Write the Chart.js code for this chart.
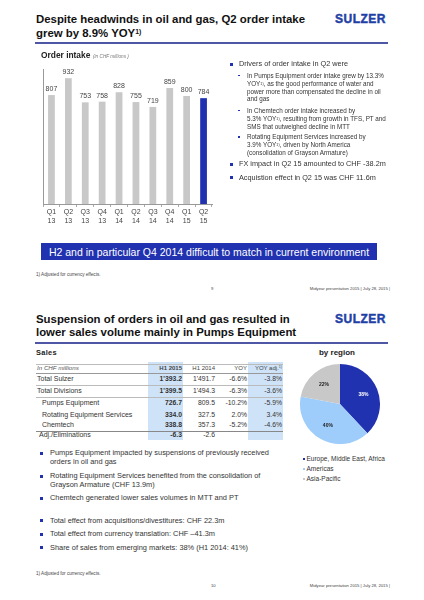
<!DOCTYPE html>
<html>
<head>
<meta charset="utf-8">
<script src="https://cdn.jsdelivr.net/npm/chart.js@4.4.0/dist/chart.umd.min.js"></script>
<style>
  html, body { margin: 0; padding: 0; background: #fff; }
  body { width: 424px; height: 600px; position: relative; overflow: hidden;
         font-family: "Liberation Sans", Arial, sans-serif; color: #222; }
  .t { position: absolute; white-space: nowrap; line-height: 1.15; transform: translateY(-50%); }
  .box { position: absolute; }
  canvas { position: absolute; }
  sup { font-size: 60%; line-height: 0; vertical-align: 0.45em; }
</style>
</head>
<body>

<canvas id="orderChart" width="180" height="175" style="left:36px;top:60px;width:180px;height:175px"></canvas>
<canvas id="regionChart" width="90" height="90" style="left:295px;top:359px;width:90px;height:90px"></canvas>

<script>
// Order intake per quarter (CHF millions)
const quarters = [['Q1','13'],['Q2','13'],['Q3','13'],['Q4','13'],['Q1','14'],['Q2','14'],['Q3','14'],['Q4','14'],['Q1','15'],['Q2','15']];
const orderIntake = [807, 932, 753, 758, 828, 755, 719, 859, 800, 784];
const orderMax = 1000;

// Sales by region, H1 2015 (%)
const regions = ['Europe, Middle East, Africa', 'Americas', 'Asia-Pacific'];
const regionShare = [38, 40, 22];

// Sales table
const tableRows = ['Total Sulzer', 'Total Divisions', 'Pumps Equipment', 'Rotating Equipment Services', 'Chemtech', 'Adj./Eliminations'];
const salesH1_2015 = ["1'393.2", "1'399.5", '726.7', '334.0', '338.8', '-6.3'];
const salesH1_2014 = ["1'491.7", "1'494.3", '809.5', '327.5', '357.3', '-2.6'];
const salesYoy = ['-6.6%', '-6.3%', '-10.2%', '2.0%', '-5.2%', ''];
const salesYoyAdj = ['-3.8%', '-3.6%', '-5.9%', '3.4%', '-4.6%', ''];

const BLUE = '#2132b0';
const GRAY = '#c8c8c8';
const LIGHTBLUE = '#9fcdfb';
const FONT = '"Liberation Sans", Arial, sans-serif';

// small helpers for the slide text
function txt(x, y, html, css, align) {
  const d = document.createElement('div');
  d.className = 't';
  d.innerHTML = html;
  d.style.cssText += css || '';
  if (align === 'right') { d.style.left = (x - 200) + 'px'; d.style.width = '200px'; d.style.textAlign = 'right'; }
  else if (align === 'center') { d.style.left = (x - 200) + 'px'; d.style.width = '400px'; d.style.textAlign = 'center'; }
  else d.style.left = x + 'px';
  d.style.top = y + 'px';
  document.body.appendChild(d);
  return d;
}
function box(x, y, w, h, color) {
  const d = document.createElement('div');
  d.className = 'box';
  d.style.cssText = `left:${x}px;top:${y}px;width:${w}px;height:${h}px;background:${color}`;
  document.body.appendChild(d);
}
function lines(x, y0, lh, arr, css) {
  arr.forEach((s, i) => txt(x, y0 + i * lh, s, css));
}

const titleCss = 'font-weight:bold;font-size:11.4px;color:#111;';
const logoCss = 'font-weight:bold;font-size:12px;color:#1f3fa6;letter-spacing:0.5px;-webkit-text-stroke:0.45px #1f3fa6;';
const bulletCss = 'font-size:7.3px;color:#333;';
const subCss = 'font-size:6.3px;color:#333;';
const tinyCss = 'font-size:4.6px;color:#444;';
const footCss = 'font-size:4.2px;color:#444;';

// ---------- slide 9 ----------
lines(36, 19.5, 14, ['Despite headwinds in oil and gas, Q2 order intake', 'grew by 8.9% YOY<sup>1)</sup>'], titleCss);
txt(335, 19.5, 'SULZER', logoCss);
box(35, 41.5, 353, 2, '#4e57a6');

txt(41, 56, 'Order intake', 'font-weight:bold;font-size:8.4px;color:#222;');
txt(93, 56.5, '(in CHF millions )', 'font-style:italic;font-size:4.7px;color:#777;');

box(229.5, 62.5, 3, 3, BLUE);
txt(239, 64, 'Drivers of order intake in Q2 were', bulletCss);
[[75.7, ['In Pumps Equipment order intake grew by 13.3%', 'YOY<sup>1)</sup>, as the good performance of water and', 'power more than compensated the decline in oil', 'and gas']],
 [110.7, ['In Chemtech order intake increased by', '5.3% YOY<sup>1)</sup>, resulting from growth in TFS, PT and', 'SMS that outweighed decline in MTT']],
 [137, ['Rotating Equipment Services increased by', '3.9% YOY<sup>1)</sup>, driven by North America', '(consolidation of Grayson Armature)']]
].forEach(([y, arr]) => {
  box(238.3, y - 0.8, 1.6, 1.6, BLUE);
  lines(247, y, 7.9, arr, subCss);
});
box(229.5, 162.8, 3, 3, BLUE);
txt(239, 164.3, 'FX impact in Q2 15 amounted to CHF -38.2m', bulletCss);
box(229.5, 176.2, 3, 3, BLUE);
txt(239, 177.7, 'Acquistion effect in Q2 15 was CHF 11.6m', bulletCss);

box(41, 243, 336, 17, BLUE);
txt(209, 251.5, 'H2 and in particular Q4 2014 difficult to match in current environment', 'font-size:10.5px;color:#fff;', 'center');

txt(36, 274.7, '1) Adjusted for currency effects.', tinyCss);
txt(211, 289, '9', footCss);
txt(390, 289, 'Midyear presentation 2015 | July 28, 2015 |', footCss, 'right');

// ---------- slide 10 ----------
lines(36, 320, 12.5, ['Suspension of orders in oil and gas resulted in', 'lower sales volume mainly in Pumps Equipment'], titleCss);
txt(335, 320, 'SULZER', logoCss);
box(35, 341.5, 353, 2, '#4e57a6');

txt(36, 353.3, 'Sales', 'font-weight:bold;font-size:7.4px;color:#222;letter-spacing:0.3px;');
txt(337, 353.3, 'by region', 'font-weight:bold;font-size:8px;color:#222;', 'center');

// table
box(148, 362, 35, 78, '#cfe3f8');
box(248, 362, 35, 78, '#cfe3f8');
box(36, 363.5, 247, 0.7, '#bbb');
box(36, 372.8, 247, 0.8, '#999');
box(36, 384.9, 247, 0.6, '#bbb');
box(36, 396.9, 247, 0.6, '#bbb');
box(36, 430.6, 247, 0.8, '#888');
const cellCss = 'font-size:7px;color:#333;';
const numCss = 'font-size:6.8px;color:#333;';
const headCss = 'font-size:6px;color:#444;';
txt(37, 368, 'In CHF millions', 'font-style:italic;font-size:6.2px;color:#555;');
txt(182, 368, 'H1 2015', 'font-weight:bold;' + headCss, 'right');
txt(215, 368, 'H1 2014', headCss, 'right');
txt(247, 368, 'YOY', headCss, 'right');
txt(282, 368, 'YOY adj.<sup>1)</sup>', headCss, 'right');
const rowY = [379, 391, 403, 414.5, 425, 435];
const rowX = [37, 37, 42, 42, 42, 39];
tableRows.forEach((name, i) => {
  const y = rowY[i];
  txt(rowX[i], y, name, cellCss);
  txt(182, y, salesH1_2015[i], 'font-weight:bold;' + numCss, 'right');
  txt(215, y, salesH1_2014[i], numCss, 'right');
  txt(247, y, salesYoy[i], numCss, 'right');
  txt(282, y, salesYoyAdj[i], numCss, 'right');
});

// legend for the pie
const pieColors = [BLUE, LIGHTBLUE, GRAY];
regions.forEach((r, i) => {
  const y = 459 + i * 10;
  box(302.5, y - 1.1, 2.4, 2.4, pieColors[i]);
  txt(306.5, y, r, 'font-size:6.5px;color:#333;');
});

// bullets
const bigCss = 'font-size:7.4px;color:#333;';
[[453.3, ['Pumps Equipment impacted by suspensions of previously received', 'orders in oil and gas']],
 [476.2, ['Rotating Equipment Services benefited from the consolidation of', 'Grayson Armature (CHF 13.9m)']],
 [498.3, ['Chemtech generated lower sales volumes in MTT and PT']],
 [520.7, ['Total effect from acquisitions/divestitures: CHF 22.3m']],
 [534, ['Total effect from currency translation: CHF \u201341.3m']],
 [547.7, ['Share of sales from emerging markets: 38% (H1 2014: 41%)']]
].forEach(([y, arr]) => {
  box(40.2, y - 1.5, 3, 3, BLUE);
  lines(50, y, 8.6, arr, bigCss);
});

txt(36, 574, '1) Adjusted for currency effects.', tinyCss);
txt(211, 586, '10', footCss);
txt(390, 586, 'Midyear presentation 2015 | July 28, 2015 |', footCss, 'right');

// ---------- charts ----------
const barValueLabels = {
  id: 'barValueLabels',
  afterDatasetsDraw(chart) {
    const ctx = chart.ctx;
    const meta = chart.getDatasetMeta(0);
    ctx.save();
    ctx.font = '7px ' + FONT;
    ctx.fillStyle = '#444';
    ctx.textAlign = 'center';
    ctx.textBaseline = 'bottom';
    meta.data.forEach((bar, i) => ctx.fillText(orderIntake[i], bar.x, bar.y - 2.5));
    ctx.restore();
  }
};

new Chart(document.getElementById('orderChart'), {
  type: 'bar',
  data: {
    labels: quarters,
    datasets: [{
      data: orderIntake,
      backgroundColor: orderIntake.map((v, i) => i === orderIntake.length - 1 ? BLUE : GRAY),
      categoryPercentage: 0.8,
      barPercentage: 0.5
    }]
  },
  options: {
    responsive: false,
    animation: false,
    events: [],
    layout: { padding: { left: 7, right: 4, top: 9, bottom: 1 } },
    plugins: { legend: { display: false }, tooltip: { enabled: false } },
    scales: {
      x: {
        grid: { display: true, drawOnChartArea: false, drawTicks: true, tickLength: 3, color: '#aaa', offset: true },
        border: { color: '#999' },
        ticks: { font: { size: 7, family: FONT }, color: '#444', padding: 1, maxRotation: 0, autoSkip: false },
        afterFit: s => { s.height = 30; }
      },
      y: {
        min: 0,
        max: orderMax,
        ticks: { display: false },
        grid: { display: false, drawTicks: false },
        border: { display: true, color: '#999' },
        afterFit: s => { s.width = 0; }
      }
    }
  },
  plugins: [barValueLabels]
});

const pieLabels = {
  id: 'pieLabels',
  afterDatasetsDraw(chart) {
    const ctx = chart.ctx;
    const meta = chart.getDatasetMeta(0);
    ctx.save();
    ctx.font = 'bold 5px ' + FONT;
    ctx.textAlign = 'center';
    ctx.textBaseline = 'middle';
    meta.data.forEach((arc, i) => {
      const mid = (arc.startAngle + arc.endAngle) / 2;
      const r = arc.outerRadius * 0.63;
      ctx.fillStyle = i === 0 ? '#fff' : '#222';
      ctx.fillText(regionShare[i] + '%', arc.x + Math.cos(mid) * r, arc.y + Math.sin(mid) * r);
    });
    ctx.restore();
  }
};

new Chart(document.getElementById('regionChart'), {
  type: 'pie',
  data: {
    labels: regions,
    datasets: [{ data: regionShare, backgroundColor: pieColors, borderWidth: 0, hoverOffset: 0 }]
  },
  options: {
    responsive: false,
    animation: false,
    events: [],
    radius: 40,
    plugins: { legend: { display: false }, tooltip: { enabled: false } }
  },
  plugins: [pieLabels]
});
</script>
</body>
</html>
